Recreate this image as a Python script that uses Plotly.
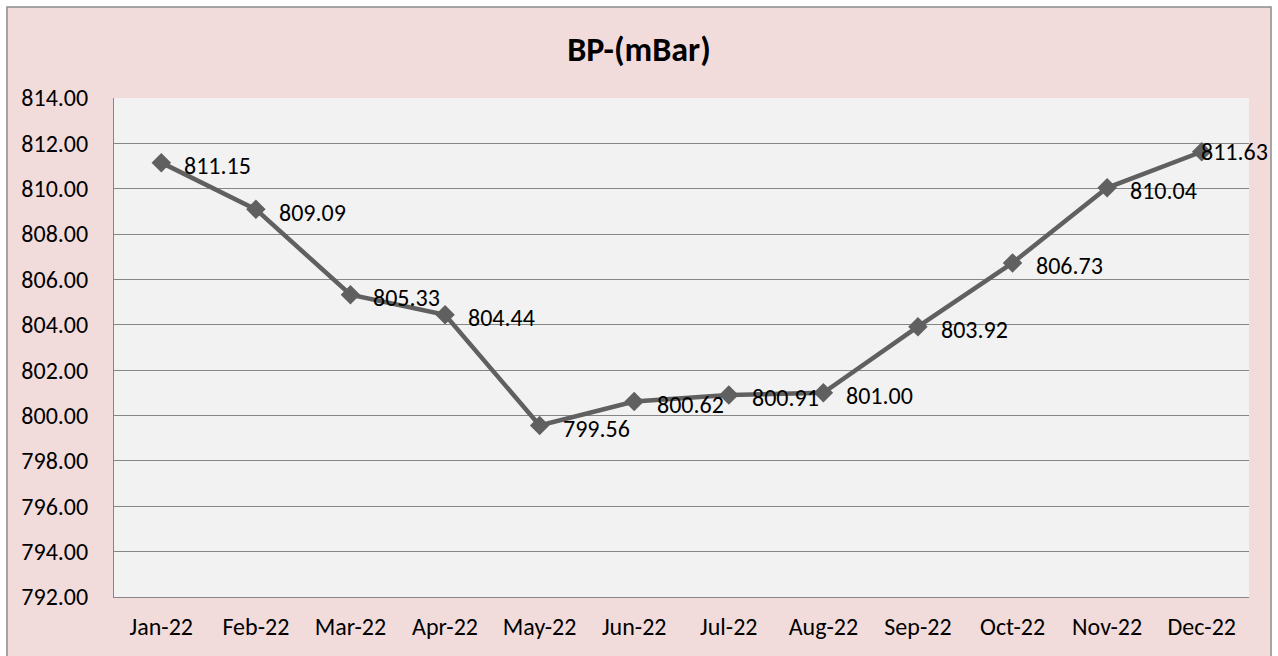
import plotly.graph_objects as go

months = ["Jan-22", "Feb-22", "Mar-22", "Apr-22", "May-22", "Jun-22",
          "Jul-22", "Aug-22", "Sep-22", "Oct-22", "Nov-22", "Dec-22"]
bp_values = [811.15, 809.09, 805.33, 804.44, 799.56, 800.62,
             800.91, 801.00, 803.92, 806.73, 810.04, 811.63]
y_ticks = [792, 794, 796, 798, 800, 802, 804, 806, 808, 810, 812, 814]

FONT = "Carlito, Lato, 'Liberation Sans', sans-serif"

fig = go.Figure()
fig.add_trace(go.Scatter(
    x=months, y=bp_values,
    mode="lines+markers",
    line=dict(color="#606060", width=4.5),
    marker=dict(symbol="diamond", size=15, color="#606060"),
    cliponaxis=False,
    showlegend=False,
))

annotations = []
for i, (m, v) in enumerate(zip(months, bp_values)):
    last = i == len(months) - 1
    annotations.append(dict(
        x=m, y=v, xref="x", yref="y", text=f"{v:.2f}", showarrow=False,
        xanchor="left", yanchor="middle",
        xshift=-3 if last else 21, yshift=-3 if not last else 0,
        font=dict(family=FONT, size=24, color="#000000"),
    ))

fig.update_layout(
    width=1278, height=656,
    margin=dict(l=114, r=29, t=98, b=59),
    paper_bgcolor="#FFFFFF",
    plot_bgcolor="#F2F2F2",
    title=dict(text="<b>BP-(mBar)</b>", x=0.5, xanchor="center", y=0.925, yanchor="middle",
               font=dict(family=FONT, size=34, color="#000000")),
    font=dict(family=FONT, size=24, color="#000000"),
    xaxis=dict(showgrid=False, showline=True, linecolor="#868686", linewidth=1,
               ticks="", tickfont=dict(size=24), range=[-0.5, 11.5], fixedrange=True,
               ticklabelstandoff=8),
    yaxis=dict(range=[792, 814], tickvals=y_ticks,
               ticktext=[f"{v:.2f}" for v in y_ticks],
               showgrid=True, gridcolor="#868686", gridwidth=1,
               showline=True, linecolor="#868686", linewidth=1,
               ticks="", tickfont=dict(size=24), zeroline=False, ticklabelstandoff=20),
    annotations=annotations,
    shapes=[
        dict(type="rect", xref="paper", yref="paper",
             x0=-0.0943, x1=1.0194, y0=-0.13, y1=1.1824,
             fillcolor="#F2DCDB", line=dict(color="#8C8C8C", width=1.5), layer="below"),
        dict(type="rect", xref="paper", yref="paper",
             x0=0, x1=1, y0=0, y1=1,
             fillcolor="#F2F2F2", line=dict(width=0), layer="below"),
    ],
)

fig.write_html("out.html", config={"displayModeBar": False},
               post_script="document.body.style.margin='0px';")
